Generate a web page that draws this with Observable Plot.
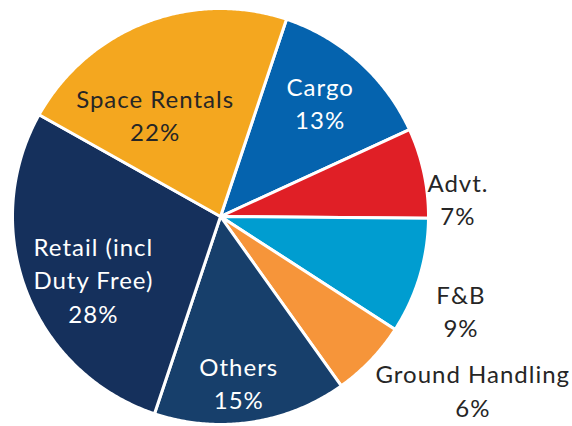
<!DOCTYPE html>
<html>
<head>
<meta charset="utf-8">
<script src="https://cdn.jsdelivr.net/npm/d3@7"></script>
<script src="https://cdn.jsdelivr.net/npm/@observablehq/plot@0.6"></script>
<style>
  html, body { margin: 0; padding: 0; background: #fff; }
  #chart svg { display: block; }
</style>
</head>
<body>
<div id="chart"></div>
<script>
// ---- data ----
const categories = ["Cargo", "Advt.", "F&B", "Ground Handling", "Others", "Retail (incl Duty Free)", "Space Rentals"];
const shares = [13, 7, 9, 6, 15, 28, 22];
const labelText = ["Cargo", "Advt.", "F&B", "Ground Handling", "Others", "Retail (incl\nDuty Free)", "Space Rentals"];
const sliceColors = ["#0563AE", "#E01F26", "#009DD0", "#F6953A", "#173F6B", "#15305C", "#F4A71F"];
const labelColors = ["#ffffff", "#262626", "#262626", "#262626", "#ffffff", "#ffffff", "#262626"];

// ---- layout ----
const W = 572, H = 426;
const CX = 220, CY = 216, R = 208;       // pie centre & radius in pixels
const START_DEG = 18.5;                  // first slice starts this many degrees clockwise from 12 o'clock
// label placement: [angle offset from slice mid (deg), radius as fraction of R]
const labelPlace = [[-0.9, 0.73], [7.6, 1.145], [4.5, 1.24], [-9.3, 1.47], [2.2, 0.80], [-4.9, 0.68], [-11.4, 0.585]];

const rad = d => d * Math.PI / 180;
const pie = d3.pie().sort(null).value(d => d.share).startAngle(rad(START_DEG)).endAngle(rad(START_DEG + 360));
const rows = categories.map((c, i) => ({category: c, share: shares[i], label: labelText[i] + "\n" + shares[i] + "%", i}));
const arcs = pie(rows);

// outline points of each slice (centre -> arc -> centre), in radius units
const outline = [];
arcs.forEach(a => {
  const c = a.data.category;
  outline.push({category: c, x: 0, y: 0});
  const n = Math.max(2, Math.ceil((a.endAngle - a.startAngle) / rad(0.5)));
  for (let k = 0; k <= n; k++) {
    const t = a.startAngle + (a.endAngle - a.startAngle) * k / n;
    outline.push({category: c, x: Math.sin(t), y: Math.cos(t)});
  }
  outline.push({category: c, x: 0, y: 0});
});

const labels = arcs.map(a => {
  const [off, rf] = labelPlace[a.data.i];
  const t = (a.startAngle + a.endAngle) / 2 + rad(off);
  return {category: a.data.category, label: a.data.label, x: rf * Math.sin(t), y: rf * Math.cos(t), color: labelColors[a.data.i]};
});

const chart = Plot.plot({
  width: W,
  height: H,
  margin: 0,
  style: {fontFamily: "Lato, 'Open Sans', sans-serif", background: "#fff", letterSpacing: "1px"},
  x: {domain: [-CX / R, (W - CX) / R], axis: null},
  y: {domain: [-(H - CY) / R, CY / R], axis: null},
  color: {domain: categories, range: sliceColors},
  marks: [
    Plot.line(outline, {x: "x", y: "y", z: "category", fill: "category", stroke: "#fff", strokeWidth: 3, strokeLinejoin: "round", curve: "linear"}),
    Plot.text(labels, {x: "x", y: "y", text: "label", fill: "color", fontSize: 24, lineHeight: 1.4, textAnchor: "middle", lineAnchor: "middle"})
  ]
});
document.getElementById("chart").append(chart);
</script>
</body>
</html>
